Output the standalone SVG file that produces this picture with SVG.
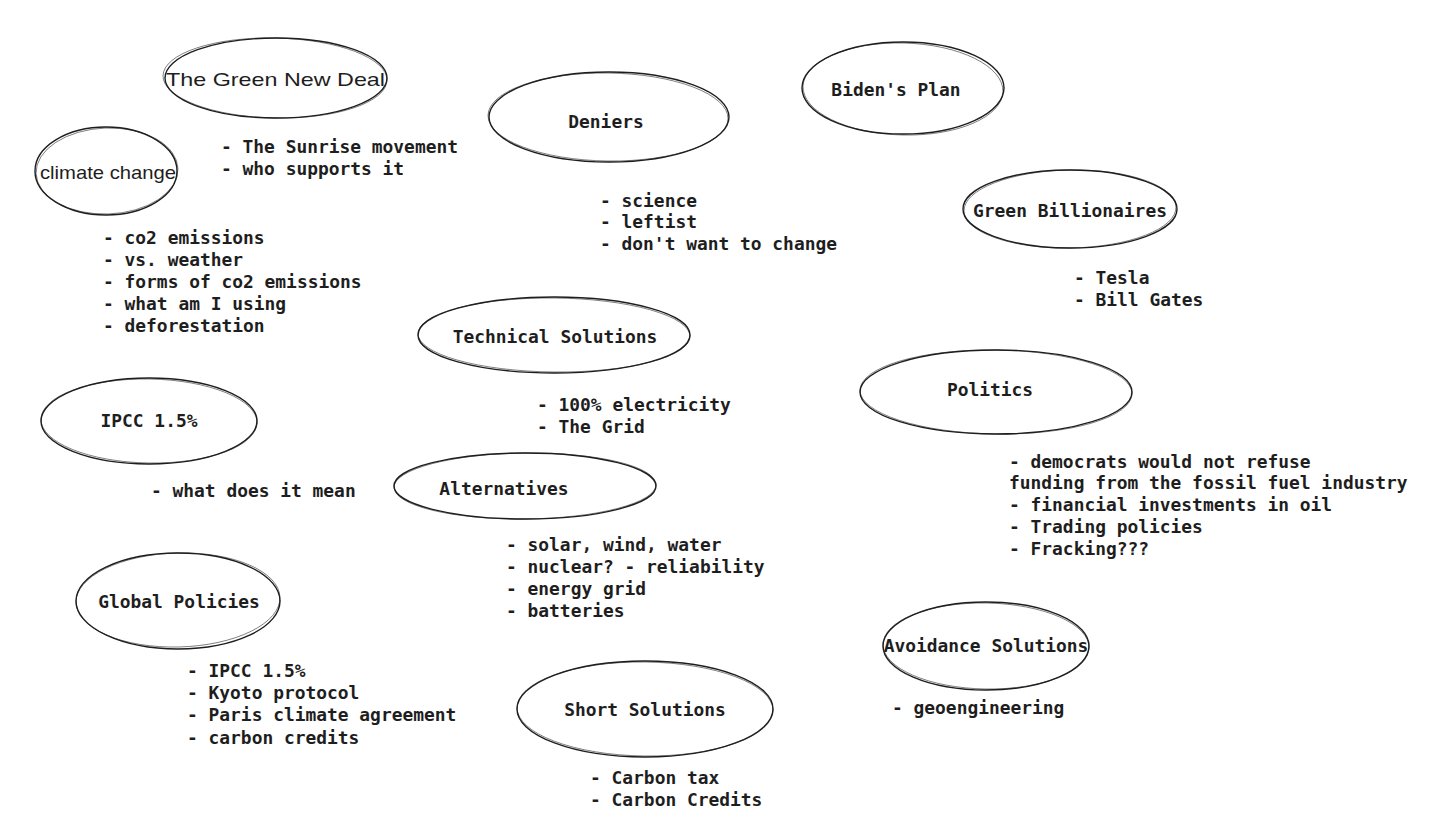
<svg xmlns="http://www.w3.org/2000/svg" width="1442" height="832" viewBox="0 0 1442 832">
<style>
.bg{fill:#ffffff}
.e{fill:none;stroke:#1e1e1e;stroke-width:1.4}
.e2{fill:none;stroke:#1e1e1e;stroke-width:0.7;opacity:0.8}
.t{font-family:"DejaVu Sans Mono","Liberation Mono",monospace;font-size:17.9px;font-weight:bold;fill:#1e1e1e}
.c{text-anchor:middle}
.h{font-family:"Liberation Sans","DejaVu Sans",sans-serif;font-size:19px;fill:#1e1e1e;text-anchor:middle}
</style>
<rect class="bg" x="0" y="0" width="1442" height="832"/>
<g id="connectors"/>

<g id="green-new-deal">
<ellipse class="e" cx="276" cy="78" rx="111" ry="40"/>
<ellipse class="e2" cx="275" cy="78" rx="112" ry="40" transform="rotate(1.2 275 78)"/>
<text class="h" x="275.5" y="86" textLength="219" lengthAdjust="spacingAndGlyphs">The Green New Deal</text>
<text class="t" x="221" y="153">- The Sunrise movement</text>
<text class="t" x="221" y="175">- who supports it</text>
</g>

<g id="climate-change">
<ellipse class="e" cx="106" cy="171" rx="71" ry="44"/>
<ellipse class="e2" cx="107" cy="171" rx="71" ry="43" transform="rotate(-2 107 171)"/>
<text class="h" x="108" y="179" textLength="136" lengthAdjust="spacingAndGlyphs">climate change</text>
<text class="t" x="103" y="244">- co2 emissions</text>
<text class="t" x="103" y="266">- vs. weather</text>
<text class="t" x="103" y="288">- forms of co2 emissions</text>
<text class="t" x="103" y="310">- what am I using</text>
<text class="t" x="103" y="332">- deforestation</text>
</g>

<g id="deniers">
<ellipse class="e" cx="609" cy="117" rx="120" ry="45"/>
<ellipse class="e2" cx="608" cy="117" rx="120" ry="44" transform="rotate(0.8 608 117)"/>
<text class="t c" x="606" y="128">Deniers</text>
<text class="t" x="600" y="207">- science</text>
<text class="t" x="600" y="228">- leftist</text>
<text class="t" x="600" y="250">- don't want to change</text>
</g>

<g id="bidens-plan">
<ellipse class="e" cx="903" cy="88" rx="101" ry="46"/>
<ellipse class="e2" cx="903" cy="89" rx="100" ry="46" transform="rotate(1.5 903 89)"/>
<text class="t c" x="896" y="96">Biden's Plan</text>
</g>

<g id="green-billionaires">
<ellipse class="e" cx="1070" cy="209" rx="107" ry="39"/>
<ellipse class="e2" cx="1070" cy="209" rx="106" ry="39" transform="rotate(-1 1070 209)"/>
<text class="t c" x="1070" y="217">Green Billionaires</text>
<text class="t" x="1074" y="284">- Tesla</text>
<text class="t" x="1074" y="306">- Bill Gates</text>
</g>

<g id="technical-solutions">
<ellipse class="e" cx="554" cy="335" rx="136" ry="38"/>
<ellipse class="e2" cx="554" cy="335" rx="136" ry="37" transform="rotate(0.6 554 335)"/>
<text class="t c" x="555" y="343">Technical Solutions</text>
<text class="t" x="537" y="411">- 100% electricity</text>
<text class="t" x="537" y="433">- The Grid</text>
</g>

<g id="alternatives">
<ellipse class="e" cx="525" cy="486" rx="131" ry="33"/>
<ellipse class="e2" cx="525" cy="486" rx="131" ry="33" transform="rotate(-0.6 525 486)"/>
<text class="t c" x="504" y="495">Alternatives</text>
<text class="t" x="506" y="551">- solar, wind, water</text>
<text class="t" x="506" y="573">- nuclear? - reliability</text>
<text class="t" x="506" y="595">- energy grid</text>
<text class="t" x="506" y="617">- batteries</text>
</g>

<g id="ipcc">
<ellipse class="e" cx="149" cy="421" rx="108" ry="43"/>
<ellipse class="e2" cx="149" cy="421" rx="108" ry="42" transform="rotate(1 149 421)"/>
<text class="t c" x="149" y="427">IPCC 1.5%</text>
<text class="t" x="151" y="497">- what does it mean</text>
</g>

<g id="global-policies">
<ellipse class="e" cx="178" cy="601" rx="102" ry="48"/>
<ellipse class="e2" cx="178" cy="600" rx="102" ry="47" transform="rotate(-1.5 178 600)"/>
<text class="t c" x="179" y="608">Global Policies</text>
<text class="t" x="187" y="677">- IPCC 1.5%</text>
<text class="t" x="187" y="699">- Kyoto protocol</text>
<text class="t" x="187" y="721">- Paris climate agreement</text>
<text class="t" x="187" y="744">- carbon credits</text>
</g>

<g id="politics">
<ellipse class="e" cx="996" cy="392" rx="136" ry="42"/>
<ellipse class="e2" cx="996" cy="392" rx="136" ry="42" transform="rotate(0.8 996 392)"/>
<text class="t c" x="990" y="396">Politics</text>
<text class="t" x="1009" y="468">- democrats would not refuse</text>
<text class="t" x="1009" y="489">funding from the fossil fuel industry</text>
<text class="t" x="1009" y="511">- financial investments in oil</text>
<text class="t" x="1009" y="533">- Trading policies</text>
<text class="t" x="1009" y="555">- Fracking???</text>
</g>

<g id="avoidance-solutions">
<ellipse class="e" cx="986" cy="646" rx="103" ry="44"/>
<ellipse class="e2" cx="986" cy="646" rx="103" ry="43" transform="rotate(1 986 646)"/>
<text class="t c" x="986" y="652">Avoidance Solutions</text>
<text class="t" x="892" y="714">- geoengineering</text>
</g>

<g id="short-solutions">
<ellipse class="e" cx="645" cy="709" rx="128" ry="48"/>
<ellipse class="e2" cx="645" cy="709" rx="128" ry="47" transform="rotate(0.7 645 709)"/>
<text class="t c" x="645" y="716">Short Solutions</text>
<text class="t" x="590" y="784">- Carbon tax</text>
<text class="t" x="590" y="806">- Carbon Credits</text>
</g>
</svg>
